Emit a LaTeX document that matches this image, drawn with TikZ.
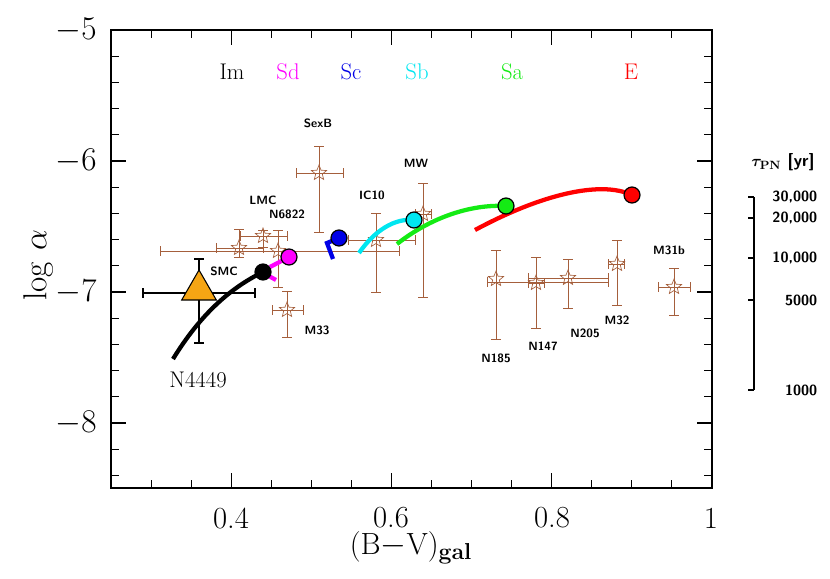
\documentclass[tikz,border=0pt]{standalone}
\usepackage{bm}
\usetikzlibrary{shapes.geometric}
\definecolor{brn}{RGB}{165,95,60}
\definecolor{orng}{RGB}{245,165,20}
\definecolor{cyn}{RGB}{0,230,240}
\definecolor{grn}{RGB}{20,235,20}
\definecolor{mgt}{RGB}{255,0,255}
\definecolor{blu}{RGB}{0,0,230}
\definecolor{rd}{RGB}{255,0,0}
\begin{document}
\begin{tikzpicture}[x=0.75pt,y=-0.75pt,
  eb/.style={draw=brn,line width=0.6pt},
  ebk/.style={draw=black,line width=0.9pt},
  st/.style={star,star points=5,star point ratio=2.3,draw=brn,line width=0.5pt,minimum size=12pt,inner sep=0pt},
  dot/.style={circle,draw=black,line width=0.9pt,minimum size=12pt,inner sep=0pt},
  lab/.style={font=\sffamily\bfseries\fontsize{9}{11}\selectfont},
  tl/.style={font=\fontsize{23}{26}\selectfont},
  cl/.style={font=\fontsize{17}{20}\selectfont},
  rl/.style={font=\sffamily\bfseries\fontsize{11}{13}\selectfont,anchor=east},
  cv/.style={line width=3.2pt}]
\useasboundingbox (0,0) rectangle (830,578);
% axes box
\draw[line width=1pt] (111,30) rectangle (712,488);
% x ticks
\foreach \i in {1,...,14}{
  \pgfmathsetmacro{\xx}{111+40.05*\i}
  \draw[line width=0.8pt] (\xx,488) -- (\xx,480) (\xx,30) -- (\xx,38);}
\foreach \xx in {231.2,391.4,551.6}{
  \draw[line width=0.8pt] (\xx,488) -- (\xx,473) (\xx,30) -- (\xx,45);}
% y ticks
\foreach \i in {1,...,17}{
  \pgfmathsetmacro{\yy}{30+26.2*\i}
  \draw[line width=0.8pt] (111,\yy) -- (119,\yy) (712,\yy) -- (704,\yy);}
\foreach \yy in {161,292,423}{
  \draw[line width=0.8pt] (111,\yy) -- (126,\yy) (712,\yy) -- (697,\yy);}
% tick labels
\node[tl] (y5) at (76,30) {$-5$};
\node[tl] (y6) at (76,161) {$-6$};
\node[tl] (y7) at (76,292) {$-7$};
\node[tl] (y8) at (76,423) {$-8$};
\node[tl] (x4) at (231,518) {0.4};
\node[tl] (x6) at (391,518) {0.6};
\node[tl] (x8) at (552,518) {0.8};
\node[tl] (x10) at (711,518) {1};
\node[tl,rotate=90] (ylab) at (38,265) {$\log\,\alpha$};
\node[tl] (xlab) at (411,548) {(B$-$V)$_{\mathbf{gal}}$};
% right tau axis
\draw[line width=1pt] (754,197) -- (754,390);
\foreach \yy in {197,218,258,300,390}{\draw[line width=1pt] (748,\yy) -- (754,\yy);}
\node[rl] (t1) at (822,197) {30,000};
\node[rl] (t2) at (822,218) {20,000};
\node[rl] (t3) at (822,258) {10,000};
\node[rl] (t4) at (822,300) {5000};
\node[rl] (t5) at (822,390) {1000};
\node[font=\sffamily\bfseries\fontsize{13}{15}\selectfont] (tau) at (783,162) {$\bm{\tau}_{\mathbf{PN}}$ [yr]};
% class labels
\node[cl] (cIm) at (232,72) {Im};
\node[cl,text=mgt] (cSd) at (288,72) {Sd};
\node[cl,text=blu] (cSc) at (351,72) {Sc};
\node[cl,text=cyn] (cSb) at (417,72) {Sb};
\node[cl,text=grn] (cSa) at (512,72) {Sa};
\node[cl,text=rd] (cE) at (631,72) {E};
% error bars
\newcommand{\errb}[7]{%
  \draw[#7] (#1,#2) -- (#3,#2) (#1,#2-5) -- (#1,#2+5) (#3,#2-5) -- (#3,#2+5);
  \draw[#7] (#4,#5) -- (#4,#6) (#4-5,#5) -- (#4+5,#5) (#4-5,#6) -- (#4+5,#6);}
\errb{296}{173}{343}{319}{146}{232}{eb}
\errb{240}{236}{287}{263}{230}{247}{eb}
\errb{216}{248}{263}{239}{229}{257}{eb}
\errb{160}{251}{399}{278}{230}{287}{eb}
\errb{272}{310}{303}{287}{291}{337}{eb}
\errb{348}{240}{415}{376}{213}{292}{eb}
\errb{415}{214}{431}{423}{183}{297}{eb}
\errb{487}{282}{608}{496}{250}{339}{eb}
\errb{528}{283}{544}{536}{257}{328}{eb}
\errb{528}{278}{608}{568}{259}{308}{eb}
\errb{608}{264}{624}{617}{240}{305}{eb}
\errb{658}{287}{690}{674}{268}{315}{eb}
\node[st] (sSexB) at (319,173) {};
\node[st] (sLMC) at (263,236) {};
\node[st] (sA) at (239,248) {};
\node[st] (sN6822) at (278,251) {};
\node[st] (sM33) at (287,310) {};
\node[st] (sIC10) at (376,240) {};
\node[st] (sMW) at (423,214) {};
\node[st] (sN185) at (496,279) {};
\node[st] (sN147) at (536,283) {};
\node[st] (sN205) at (568,278) {};
\node[st] (sM32) at (617,264) {};
\node[st] (sM31b) at (674,287) {};
% SMC triangle
\errb{143}{293}{255}{199}{259}{343}{ebk}
\node[regular polygon,regular polygon sides=3,fill=orng,draw=black,line width=0.8pt,minimum size=30pt,inner sep=0pt] (smc) at (199,290) {};
% curves
\draw[cv,black] (173,359) .. controls (200,315) and (230,288) .. (263,272);
\draw[cv,mgt] (270,267) -- (289,257) (267,275) -- (276,280);
\draw[cv,blu] (333,259) -- (327,243) -- (339,238);
\draw[cv,cyn] (359,253) .. controls (375,230) and (395,218) .. (414,220);
\draw[cv,grn] (397,244) .. controls (430,218) and (470,204) .. (506,206);
\draw[cv,rd] (475,230) .. controls (540,195) and (600,180) .. (632,195);
\node[dot,fill=black] (dIm) at (263,272) {};
\node[dot,fill=mgt] (dSd) at (289,257) {};
\node[dot,fill=blu] (dSc) at (339,238) {};
\node[dot,fill=cyn] (dSb) at (414,220) {};
\node[dot,fill=grn] (dSa) at (506,206) {};
\node[dot,fill=rd] (dE) at (632,195) {};
% labels
\node[lab] (lSexB) at (318,123) {SexB};
\node[lab] (lMW) at (416,163) {MW};
\node[lab] (lIC10) at (372,195) {IC10};
\node[lab] (lLMC) at (263,200) {LMC};
\node[lab] (lN6822) at (287,214) {N6822};
\node[lab] (lSMC) at (224,271) {SMC};
\node[lab] (lM33) at (317,330) {M33};
\node[font=\fontsize{17}{20}\selectfont] (lN4449) at (198,380) {N4449};
\node[lab] (lN185) at (496,358) {N185};
\node[lab] (lN147) at (543,346) {N147};
\node[lab] (lN205) at (585,333) {N205};
\node[lab] (lM32) at (617,320) {M32};
\node[lab] (lM31b) at (669,250) {M31b};
\end{tikzpicture}
\end{document}
